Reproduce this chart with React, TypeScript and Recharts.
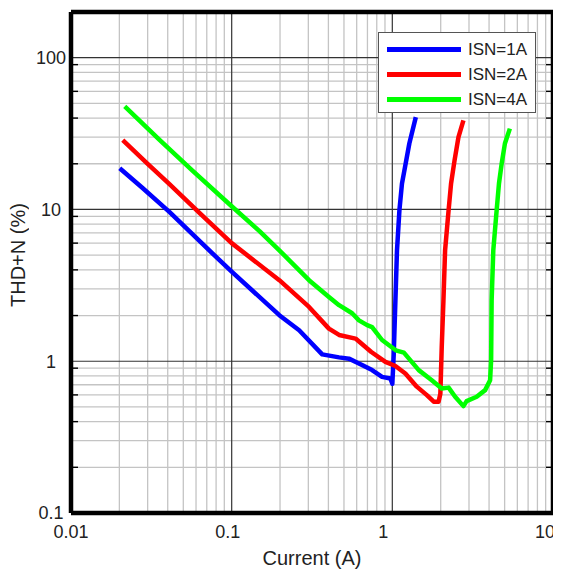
import { LineChart, Line, XAxis, YAxis, ReferenceLine } from 'recharts'

// THD+N vs output current, three ISN settings
const blueX = [0.0201, 0.028, 0.0411, 0.084, 0.1, 0.198, 0.263, 0.366, 0.466, 0.537, 0.62, 0.748, 0.863, 0.973, 1.0, 1.02, 1.045, 1.069, 1.107, 1.148, 1.2, 1.276, 1.4]
const blueY = [18.7, 13.8, 9.6, 4.63, 3.9, 2.01, 1.6, 1.11, 1.06, 1.04, 0.967, 0.874, 0.789, 0.77, 0.71, 1.1, 2.52, 5.38, 9.9, 14.8, 19.1, 27.2, 40.6]

const redX = [0.021, 0.03, 0.041, 0.063, 0.1, 0.198, 0.303, 0.403, 0.466, 0.59, 0.74, 0.906, 1.045, 1.205, 1.42, 1.64, 1.81, 1.94, 1.99, 2.03, 2.08, 2.13, 2.24, 2.32, 2.44, 2.58, 2.77]
const redY = [28.6, 20.0, 14.7, 9.5, 6.0, 3.42, 2.28, 1.64, 1.49, 1.41, 1.15, 0.99, 0.93, 0.83, 0.68, 0.598, 0.541, 0.541, 0.61, 1.24, 2.52, 5.38, 9.9, 14.8, 21.1, 30.0, 38.6]

const greenX = [0.0216, 0.0357, 0.057, 0.1, 0.149, 0.198, 0.303, 0.403, 0.466, 0.562, 0.62, 0.697, 0.748, 0.863, 1.05, 1.18, 1.46, 1.76, 2.03, 2.24, 2.46, 2.77, 2.9, 3.35, 3.78, 4.06, 4.12, 4.15, 4.25, 4.46, 4.61, 4.79, 5.02, 5.39]
const greenY = [47.7, 28.6, 18.0, 10.5, 7.2, 5.38, 3.42, 2.65, 2.34, 2.07, 1.86, 1.73, 1.68, 1.38, 1.18, 1.14, 0.874, 0.75, 0.662, 0.67, 0.583, 0.506, 0.546, 0.583, 0.645, 0.75, 1.02, 2.52, 5.38, 9.9, 14.8, 20.0, 27.2, 34.1]

const xTicks = [0.01, 0.1, 1, 10]
const yTicks = [0.1, 1, 10, 100]
const xMinor = [0.02, 0.03, 0.04, 0.05, 0.06, 0.07, 0.08, 0.09, 0.2, 0.3, 0.4, 0.5, 0.6, 0.7, 0.8, 0.9, 2, 3, 4, 5, 6, 7, 8, 9]
const xMajor = [0.1, 1]
const yMinor = [0.2, 0.3, 0.4, 0.5, 0.6, 0.7, 0.8, 0.9, 2, 3, 4, 5, 6, 7, 8, 9, 20, 30, 40, 50, 60, 70, 80, 90]
const yMajor = [1, 10, 100]

const series = [
  { name: 'ISN=1A', color: '#0000ff', xs: blueX, ys: blueY },
  { name: 'ISN=2A', color: '#ff0000', xs: redX, ys: redY },
  { name: 'ISN=4A', color: '#00ff00', xs: greenX, ys: greenY },
]

const toPoints = (xs: number[], ys: number[]) => xs.map((x, i) => ({ x, y: ys[i] }))

const font = '"Liberation Sans", Arial, sans-serif'
const xLabelShift: Record<string, number> = { '0.01': 0, '0.1': -4, '1': -9, '10': -8 }

function XTick({ x, y, payload }: any) {
  const v = String(payload.value)
  return (
    <text x={x + (xLabelShift[v] ?? 0)} y={y} dy="0.71em" textAnchor="middle" fontSize={18} fill="#222">
      {v}
    </text>
  )
}

function YTick({ x, y, payload }: any) {
  return (
    <text x={x - 15} y={y} dy="0.35em" textAnchor="middle" fontSize={18} fill="#222">
      {String(payload.value)}
    </text>
  )
}

const minorTickLine = { stroke: '#000', strokeWidth: 1.4 }
const noLabel = () => <g />

export default function App() {
  return (
    <div style={{ position: 'relative', width: 553, height: 567, fontFamily: font }}>
      <LineChart
        width={553}
        height={567}
        margin={{ top: 4, right: 8, bottom: 10, left: 0 }}
        style={{ fontFamily: font }}
      >
        <XAxis
          dataKey="x"
          type="number"
          scale="log"
          domain={[0.01, 10]}
          ticks={xTicks}
          allowDataOverflow
          axisLine={false}
          tickLine={false}
          tickSize={6}
          tickMargin={6}
          height={52}
          tick={<XTick />}
          label={{ value: 'Current (A)', position: 'insideBottom', offset: 0, fontSize: 20, fill: '#222' }}
        />
        <YAxis
          dataKey="y"
          type="number"
          scale="log"
          domain={[0.1, 200]}
          ticks={yTicks}
          allowDataOverflow
          axisLine={false}
          tickLine={false}
          tickSize={3}
          tickMargin={2}
          width={63}
          tick={<YTick />}
        />
        {/* inward minor ticks on all four sides of the box */}
        <XAxis xAxisId="tb" type="number" scale="log" domain={[0.01, 10]} ticks={xMinor} allowDataOverflow mirror height={1} axisLine={false} tick={noLabel} tickSize={7} tickLine={minorTickLine} />
        <XAxis xAxisId="tt" orientation="top" type="number" scale="log" domain={[0.01, 10]} ticks={xMinor} allowDataOverflow mirror height={1} axisLine={false} tick={noLabel} tickSize={7} tickLine={minorTickLine} />
        <YAxis yAxisId="yl" type="number" scale="log" domain={[0.1, 200]} ticks={yMinor} allowDataOverflow mirror width={1} axisLine={false} tick={noLabel} tickSize={7} tickLine={minorTickLine} />
        <YAxis yAxisId="yr" orientation="right" type="number" scale="log" domain={[0.1, 200]} ticks={yMinor} allowDataOverflow mirror width={1} axisLine={false} tick={noLabel} tickSize={7} tickLine={minorTickLine} />
        {xMinor.map((v) => (
          <ReferenceLine key={'xm' + v} x={v} stroke="#c4c4c4" strokeWidth={1.3} />
        ))}
        {yMinor.map((v) => (
          <ReferenceLine key={'ym' + v} y={v} stroke="#c4c4c4" strokeWidth={1.3} />
        ))}
        {xMajor.map((v) => (
          <ReferenceLine key={'xM' + v} x={v} stroke="#444" strokeWidth={1.3} />
        ))}
        {yMajor.map((v) => (
          <ReferenceLine key={'yM' + v} y={v} stroke="#333" strokeWidth={1.2} />
        ))}
        {series.map((s) => (
          <Line
            key={s.name}
            name={s.name}
            data={toPoints(s.xs, s.ys)}
            dataKey="y"
            type="linear"
            stroke={s.color}
            strokeWidth={4.5}
            strokeLinejoin="round"
            dot={false}
            activeDot={false}
            isAnimationActive={false}
          />
        ))}
        <ReferenceLine x={0.01} stroke="#000" strokeWidth={4.5} />
        <ReferenceLine x={10} stroke="#000" strokeWidth={4.5} />
        <ReferenceLine y={0.1} stroke="#000" strokeWidth={4.5} />
        <ReferenceLine y={200} stroke="#000" strokeWidth={4.5} />
      </LineChart>
      <div
        style={{
          position: 'absolute',
          left: -1,
          top: 192,
          width: 22,
          height: 110,
          display: 'flex',
          alignItems: 'center',
          justifyContent: 'center',
          writingMode: 'vertical-rl',
          transform: 'rotate(180deg)',
          fontSize: 20,
          color: '#222',
          whiteSpace: 'nowrap',
        }}
      >
        THD+N (%)
      </div>
      <div
        style={{
          position: 'absolute',
          left: 370,
          top: 24,
          width: 156,
          height: 79,
          border: '1px solid #555',
          background: '#fff',
        }}
      >
        {series.map((s, i) => (
          <div
            key={s.name}
            style={{ position: 'absolute', left: 0, top: 4 + i * 25, height: 25, display: 'flex', alignItems: 'center' }}
          >
            <div style={{ marginLeft: 8, width: 74, height: 5, background: s.color }} />
            <span style={{ marginLeft: 7, fontSize: 17, color: '#222', lineHeight: '25px' }}>{s.name}</span>
          </div>
        ))}
      </div>
    </div>
  )
}
